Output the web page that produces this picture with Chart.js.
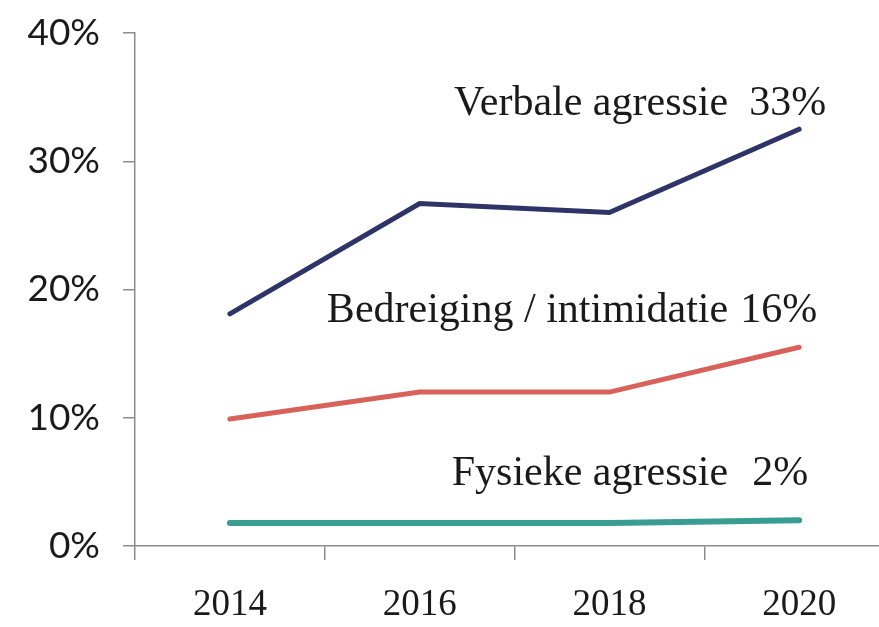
<!DOCTYPE html>
<html lang="nl">
<head>
  <meta charset="UTF-8">
  <title>Agressie</title>
  <script src="https://cdn.jsdelivr.net/npm/chart.js"></script>
  <style>
    html, body { margin: 0; padding: 0; background: #fff; overflow: hidden; }
    canvas { display: block; }
  </style>
</head>
<body>
  <canvas id="chart" width="894" height="627"></canvas>

  <script>
    const years = ['2014', '2016', '2018', '2020'];
    const verbale = [18.1, 26.7, 26.0, 32.5];
    const bedreiging = [9.9, 12.0, 12.0, 15.5];
    const fysiek = [1.8, 1.8, 1.8, 2.0];
    const seriesNames = ['Verbale agressie', 'Bedreiging / intimidatie', 'Fysieke agressie'];
    const seriesLabels = ['33%', '16%', '2%'];
    const yTicks = [0, 10, 20, 30, 40];

    const serif = '"Liberation Serif", "DejaVu Serif", serif';
    const axisGrey = '#8c8c8c';

    // naam + percentage boven het laatste punt van elke lijn
    const endLabels = {
      id: 'endLabels',
      afterDatasetsDraw(chart, args, opts) {
        const ctx = chart.ctx;
        ctx.save();
        ctx.font = '42px ' + serif;
        ctx.fillStyle = '#1a1a1a';
        ctx.textBaseline = 'alphabetic';
        chart.data.datasets.forEach((ds, i) => {
          const pts = chart.getDatasetMeta(i).data;
          const last = pts[pts.length - 1];
          const y = last.y - opts.lift[i];
          ctx.textAlign = 'right';
          ctx.fillText(seriesNames[i], last.x - 71, y);
          ctx.textAlign = 'left';
          ctx.fillText(seriesLabels[i], last.x - opts.valueGap[i], y);
        });
        ctx.restore();
      }
    };

    new Chart(document.getElementById('chart'), {
      type: 'line',
      data: {
        labels: years,
        datasets: [
          { label: seriesNames[0], data: verbale, borderColor: '#2f3468', borderWidth: 5 },
          { label: seriesNames[1], data: bedreiging, borderColor: '#d8625a', borderWidth: 5 },
          { label: seriesNames[2], data: fysiek, borderColor: '#3a9d93', borderWidth: 6 }
        ]
      },
      options: {
        responsive: false,
        animation: false,
        layout: { padding: { top: 33, right: 0, left: 0, bottom: 0 } },
        elements: {
          point: { radius: 0 },
          line: { tension: 0, borderCapStyle: 'round', borderJoinStyle: 'miter', fill: false }
        },
        plugins: {
          legend: { display: false },
          tooltip: { enabled: false },
          endLabels: { lift: [14, 25, 35], valueGap: [50, 59, 47] }
        },
        scales: {
          x: {
            offset: true,
            afterFit: s => { s.height = 81; s.paddingLeft = 0; s.paddingRight = 0; },
            border: { color: axisGrey, width: 1.5 },
            grid: { offset: true, drawOnChartArea: false, drawTicks: true, tickLength: 14, color: axisGrey, lineWidth: 1.5 },
            ticks: { color: '#1a1a1a', font: { family: serif, size: 37 }, padding: 23 }
          },
          y: {
            min: 0,
            max: 40,
            afterFit: s => { s.width = 135; s.paddingTop = 0; s.paddingBottom = 0; },
            afterBuildTicks: s => { s.ticks = yTicks.map(v => ({ value: v })); },
            border: { color: axisGrey, width: 1.5 },
            grid: { drawOnChartArea: false, drawTicks: true, tickLength: 12, color: axisGrey, lineWidth: 1.5 },
            ticks: {
              color: '#1a1a1a',
              font: { family: 'Lato, "Open Sans", sans-serif', size: 37 },
              padding: 23,
              callback: v => v + '%'
            }
          }
        }
      },
      plugins: [endLabels]
    });
  </script>
</body>
</html>
